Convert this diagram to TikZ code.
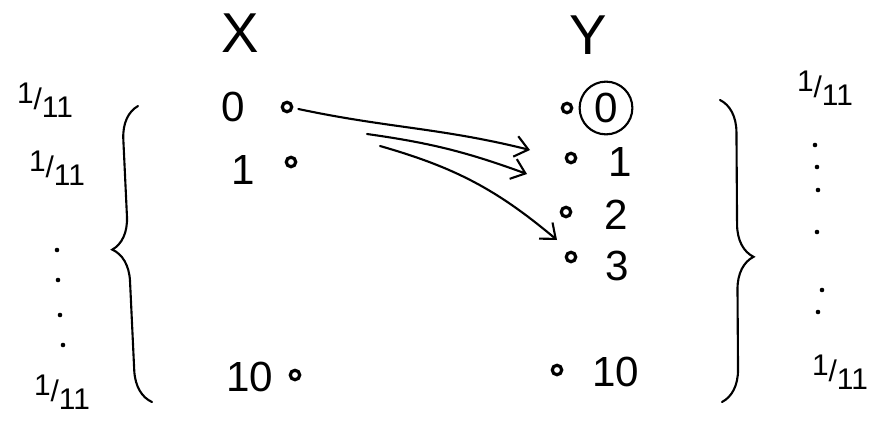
\documentclass[tikz,border=0pt]{standalone}
\usepackage{fontspec}
\setmainfont{Liberation Sans}
\usetikzlibrary{arrows.meta,positioning,decorations.pathreplacing}
\newcommand{\unifprob}{\raisebox{.4ex}{1}/\raisebox{-.5ex}{11}}

\begin{document}
\begin{tikzpicture}[
  x=0.02cm, y=-0.02cm,
  hand/.style={line width=1.2pt, line cap=round},
  setname/.style={font=\fontsize{32}{34}\selectfont, inner sep=0pt},
  val/.style={font=\fontsize{24}{26}\selectfont, inner sep=1pt},
  pt/.style={circle, draw, line width=1.8pt, inner sep=0pt, minimum size=1.9mm},
  prob/.style={font=\fontsize{17}{19}\selectfont, inner sep=0pt},
  mapsto/.style={hand, -{Straight Barb[length=2.6mm,width=4.2mm]}},
  brace/.style={hand, decorate, decoration={brace, amplitude=6.5mm, aspect=0.52}}
]
\useasboundingbox (0,0) rectangle (886,423);
% set names
\node[setname] (X) at (240,33) {X};
\node[setname] (Y) at (588,35) {Y};
% domain
\node[val] (x0) at (233,107) {0};
\node[val] (x1) at (243,170) {1};
\node[val] (x10) at (250,377) {10};
\node[pt] (px0) at (287,107) {};
\node[pt] (px1) at (291,162) {};
\node[pt] (px10) at (295,375) {};
% codomain
\node[pt] (py0) at (567,108) {};
\node[pt] (py1) at (571,158) {};
\node[pt] (py2) at (566,212) {};
\node[pt] (py3) at (571,257) {};
\node[pt] (py10) at (557,370) {};
\node[val, circle, draw, hand, inner sep=3pt] (y0) at (606,108) {0};
\node[val] (y1) at (620,162) {1};
\node[val] (y2) at (616,215) {2};
\node[val] (y3) at (617,266) {3};
\node[val] (y10) at (616,372) {10};
% arrows
\coordinate (s2) at (367,134);
\coordinate (s3) at (380,146);
\coordinate (e1) at (530,150);
\coordinate (e2) at (527,174);
\coordinate (e3) at (557,240);
\draw[mapsto] (px0.east) ++(5,2) to[out=-12,in=166] (e1);
\draw[mapsto] (s2) to[out=-8,in=160] (e2);
\draw[mapsto] (s3) to[bend left=12] (e3);
% braces
\draw[brace] (152,402) -- (138,106);
\draw[brace] (720,100) -- (722,402);
% probabilities
\node[prob] (lp0) at (45,100) {\unifprob};
\node[prob] (lp1) at (57,168) {\unifprob};
\node[prob] (lp10) at (62,392) {\unifprob};
\node[prob] (rp0) at (825,88) {\unifprob};
\node[prob] (rp10) at (840,372) {\unifprob};
\foreach \yy/\xx in {250/57,280/58,315/60,345/63}
  \fill (\xx,\yy) circle (1.3pt);
\foreach \yy/\xx in {145/815,167/817,190/818,232/817,290/822,312/818}
  \fill (\xx,\yy) circle (1.3pt);
\end{tikzpicture}
\end{document}
